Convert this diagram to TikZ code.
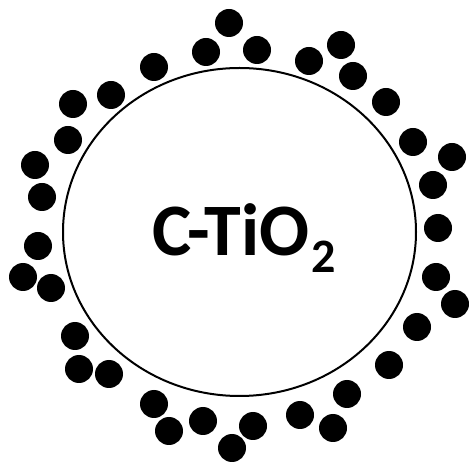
\documentclass[tikz,border=0pt]{standalone}
\usepackage{fontspec}
\setmainfont{Carlito}
\usepackage{tikz}
\tikzset{
  core/.style={draw=black, line width=2pt, fill=white},
  particle/.style={fill=black},
  lbl/.style={font=\bfseries\fontsize{74}{74}\selectfont, inner sep=0pt, anchor=base west},
}

\begin{document}
\begin{tikzpicture}[x=1pt, y=-1pt]
  \useasboundingbox (0,0) rectangle (469,462);
  %% Core particle
  \draw[core] (239.5,232) ellipse [x radius=176.5, y radius=164];
  \node[lbl] (name) at (152,256) {C-TiO\kern2pt\raisebox{-17pt}{\fontsize{48}{48}\selectfont 2}};
  %% Surface particles
  \foreach \x/\y in {229/23, 206/52, 257/50, 154/67, 309/61, 341/45, 353/76,
      111/95, 73/104, 386/102, 68/140, 413/142, 35/165, 452/157, 42/197,
      433/185, 438/228, 38/246, 436/277, 23/277, 51/288, 455/304, 417/327,
      75/336, 389/365, 79/369, 109/374, 347/394, 154/404, 300/415, 203/421,
      253/426, 333/428, 169/431, 232/448}
    \fill[particle] (\x,\y) circle [radius=14];
\end{tikzpicture}
\end{document}
